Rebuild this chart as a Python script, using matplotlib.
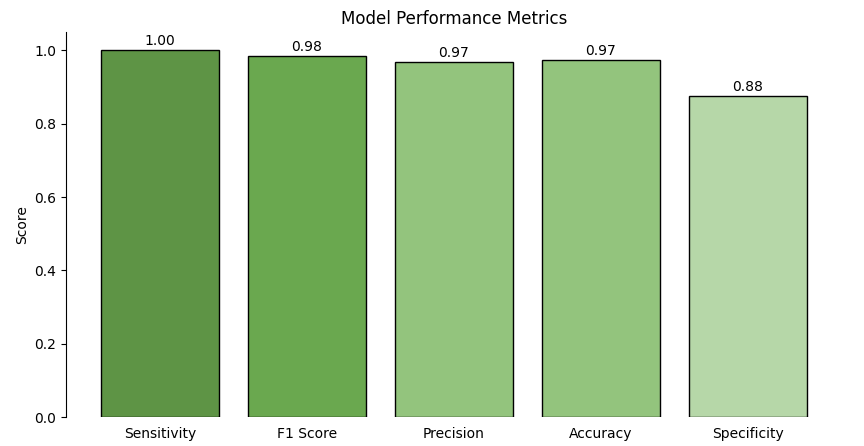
import matplotlib
matplotlib.use('Agg')
import matplotlib.pyplot as plt

metrics = ['Sensitivity', 'F1 Score', 'Precision', 'Accuracy', 'Specificity']
scores = [1.00, 0.984, 0.968, 0.973, 0.875]
colors = ['#5e9445', '#6aa84f', '#93c47d', '#93c47d', '#b6d7a8']

fig = plt.figure(figsize=(8.64, 4.46), dpi=100)
ax = fig.add_axes([0.0764, 0.065, 0.898, 0.863])

bars = ax.bar(metrics, scores, color=colors, edgecolor='black', linewidth=1)
for b, s in zip(bars, scores):
    ax.annotate(f'{s:.2f}', (b.get_x() + b.get_width() / 2, b.get_height()),
                xytext=(0, 1.5), textcoords='offset points', ha='center', va='bottom')

ax.set_ylim(0, 1.05)
ax.set_ylabel('Score')
ax.set_title('Model Performance Metrics')
for side in ['top', 'right', 'bottom']:
    ax.spines[side].set_visible(False)
ax.tick_params(axis='x', length=0, pad=7)

fig.savefig('out.png', dpi=100)
